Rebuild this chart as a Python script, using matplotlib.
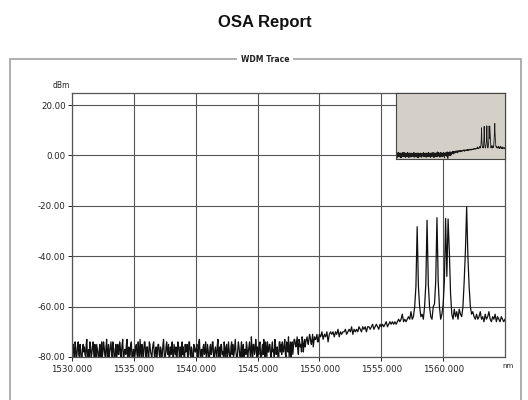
import numpy as np
import matplotlib
matplotlib.use("Agg")
import matplotlib.pyplot as plt
from matplotlib.patches import Rectangle

# ---- data ----------------------------------------------------------------
wl_start, wl_stop, wl_step = 1530.0, 1565.0, 0.1
wavelength = np.round(np.arange(wl_start, wl_stop + wl_step / 2, wl_step), 1)

power_dbm = [
    # 1530
    -78, -75, -81, -76, -79, -74, -80, -77, -82, -75,
    -76, -80, -73, -78, -81, -76, -79, -74, -82, -77,
    -75, -79, -77, -83, -74, -78, -76, -80, -73, -79,
    -81, -76, -78, -74, -80, -77, -82, -75, -79, -76,
    -78, -73, -80, -77, -75, -81, -76, -79, -74, -82,
    # 1535
    -77, -79, -75, -80, -78, -73, -81, -76, -78, -74,
    -80, -76, -82, -75, -79, -77, -74, -81, -76, -78,
    -75, -80, -77, -79, -73, -82, -76, -78, -75, -80,
    -79, -74, -81, -77, -76, -80, -75, -83, -77, -74,
    -76, -81, -78, -75, -79, -74, -80, -77, -82, -76,
    # 1540
    -78, -75, -80, -73, -81, -77, -76, -79, -74, -80,
    -77, -82, -75, -78, -74, -80, -76, -81, -73, -79,
    -80, -76, -78, -74, -82, -75, -79, -77, -81, -74,
    -75, -79, -73, -80, -77, -76, -82, -74, -78, -80,
    -77, -74, -81, -76, -79, -72, -80, -75, -78, -76,
    # 1545
    -76, -79, -74, -82, -75, -73, -80, -77, -74, -78,
    -75, -81, -74, -77, -73, -79, -76, -83, -74, -75,
    -74, -78, -73, -80, -75, -72, -77, -84, -74, -76,
    -73, -76, -72, -79, -74, -75, -72, -78, -73, -74,
    -72, -75, -71, -74, -73, -76, -72, -73, -71, -74,
    # 1550
    -71, -72, -70, -73, -71, -72, -70, -74, -71, -70,
    -71, -70, -72, -70, -71, -69, -72, -70, -71, -70,
    -70, -69, -71, -70, -69, -70, -68, -71, -69, -70,
    -69, -70, -68, -69, -70, -68, -69, -68, -70, -68,
    -68, -69, -68, -67, -69, -68, -67, -68, -69, -67,
    # 1555
    -68, -67, -68, -67, -66, -68, -67, -66, -67, -66,
    -67, -66, -67, -66, -65, -66, -65, -63, -66, -65,
    -66, -65, -64, -65, -62, -65, -64, -60, -52, -28.3,
    -52, -60, -64, -63, -65, -60, -51, -25.7, -51, -60,
    -64, -65, -60, -59, -50, -24.7, -50, -60, -65, -63,
    # 1560
    -59, -50, -25.0, -48, -25.2, -38, -55, -63, -65, -61,
    -64, -62, -65, -61, -63, -64, -60, -50, -38, -20.4,
    -40, -52, -60, -63, -62, -64, -65, -63, -65, -64,
    -62, -65, -64, -66, -63, -65, -64, -62, -65, -66,
    -64, -65, -63, -66, -64, -65, -66, -64, -65, -66,
    # 1565
    -65,
]

# extra samples of the dense noise floor, at 1530.05 ... 1549.95 nm
mid_wavelength = np.round(np.arange(1530.05, 1550.0, 0.1), 2)
mid_power_dbm = [
    -80, -77, -74, -82, -76, -79, -75, -81, -77, -78,
    -79, -75, -81, -77, -74, -80, -76, -78, -75, -81,
    -77, -82, -75, -78, -80, -74, -79, -76, -81, -75,
    -78, -74, -80, -76, -83, -75, -78, -79, -74, -80,
    -75, -81, -77, -79, -73, -78, -80, -75, -81, -77,
    -81, -76, -79, -74, -80, -77, -75, -82, -74, -79,
    -76, -80, -74, -78, -81, -75, -79, -77, -80, -75,
    -79, -76, -81, -75, -78, -80, -74, -79, -81, -76,
    -76, -80, -75, -79, -82, -74, -78, -76, -80, -79,
    -80, -75, -77, -81, -74, -79, -76, -82, -75, -78,
    -76, -80, -74, -79, -77, -81, -75, -78, -80, -75,
    -80, -76, -79, -74, -81, -77, -79, -75, -80, -76,
    -75, -79, -81, -77, -76, -80, -74, -80, -76, -79,
    -80, -76, -78, -82, -74, -79, -77, -80, -75, -77,
    -79, -76, -78, -74, -81, -77, -75, -79, -73, -80,
    -78, -75, -81, -77, -79, -76, -74, -80, -78, -75,
    -79, -76, -78, -80, -75, -77, -81, -74, -78, -79,
    -77, -75, -79, -74, -78, -80, -74, -76, -79, -73,
    -75, -74, -77, -73, -76, -78, -74, -75, -76, -73,
    -74, -73, -72, -75, -71, -74, -73, -72, -74, -72,
]

y_ticks = [-80, -60, -40, -20, 0, 20]
y_tick_labels = ["-80.00", "-60.00", "-40.00", "-20.00", "0.00", "20.00"]
x_ticks = [1530, 1535, 1540, 1545, 1550, 1555, 1560]
x_tick_labels = ["1530.000", "1535.000", "1540.000", "1545.000",
                 "1550.000", "1555.000", "1560.000"]

title = "OSA Report"
panel_title = "WDM Trace"
y_unit = "dBm"
x_unit = "nm"

# merge the two sample sets into one trace ordered by wavelength
all_wl = np.concatenate([wavelength, mid_wavelength])
all_p = np.concatenate([np.asarray(power_dbm, float), np.asarray(mid_power_dbm, float)])
order = np.argsort(all_wl)
trace_wl = all_wl[order]
trace_p = all_p[order]

# ---- figure --------------------------------------------------------------
W, H = 528, 400
fig = plt.figure(figsize=(W / 100, H / 100), dpi=100)
fig.patch.set_facecolor("white")


def fx(px):
    return px / W


def fy(py):
    return 1 - py / H


# outer group frame
frame = Rectangle((fx(10), fy(420)), fx(521) - fx(10), fy(59) - fy(420),
                  transform=fig.transFigure, fill=False,
                  edgecolor="#a8a8a8", linewidth=1.3, zorder=0)
fig.add_artist(frame)

fig.text(fx(265), fy(23), title, ha="center", va="center",
         fontsize=12, fontweight="bold", family="Liberation Sans", color="#111")
fig.text(fx(265), fy(60), panel_title, ha="center", va="center",
         fontsize=5.5, fontweight="bold", family="DejaVu Sans", color="#222",
         bbox=dict(facecolor="white", edgecolor="none", pad=2.5))

# main axes
ax = fig.add_axes([fx(72), fy(357), fx(505) - fx(72), fy(93) - fy(357)])
ax.plot(trace_wl, trace_p, color="#111111", linewidth=0.9)
ax.set_xlim(1530, 1565)
ax.set_ylim(-80, 24.8)
ax.set_xticks(x_ticks)
ax.set_xticklabels(x_tick_labels)
ax.set_yticks(y_ticks)
ax.set_yticklabels(y_tick_labels)
ax.grid(True, color="#555555", linewidth=0.8)
ax.set_axisbelow(True)
ax.tick_params(axis="both", labelsize=6.2, colors="#222", length=3,
               width=0.7, pad=1.5)
ax.tick_params(axis="x", pad=3)
for s in ax.spines.values():
    s.set_color("#555555")
    s.set_linewidth(0.9)

fig.text(fx(61), fy(86), y_unit, ha="center", va="center",
         fontsize=5.5, color="#222")
fig.text(fx(508), fy(366), x_unit, ha="center", va="center",
         fontsize=5, color="#222")

# overview inset
ins = fig.add_axes([fx(396), fy(159), fx(505) - fx(396), fy(93) - fy(159)])
ins.set_facecolor("#d4d0c8")
ins.plot(trace_wl, trace_p, color="#1a1a1a", linewidth=0.6)
ins.set_xlim(1532, 1565)
ins.set_ylim(-85, 35)
ins.set_xticks([])
ins.set_yticks([])
for s in ins.spines.values():
    s.set_color("#444444")
    s.set_linewidth(0.8)

fig.savefig("out.png", dpi=100, facecolor="white")
